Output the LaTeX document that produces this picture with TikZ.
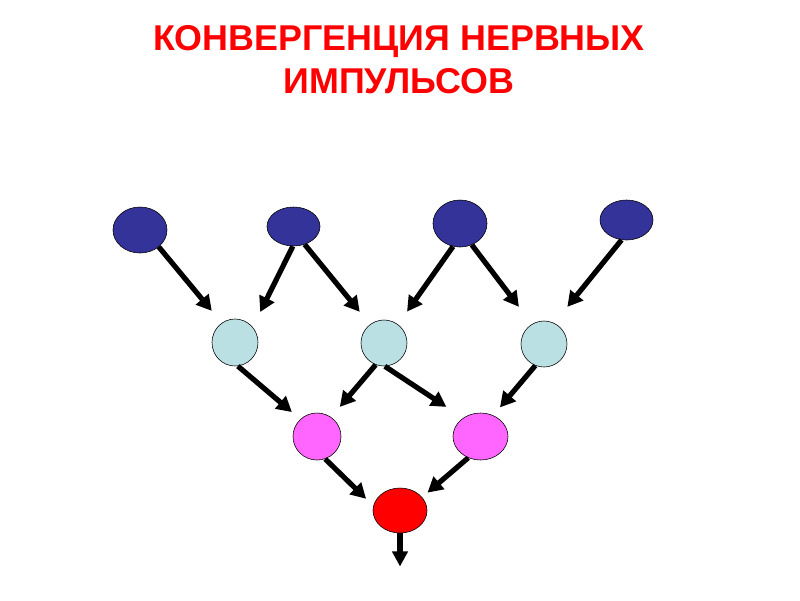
\documentclass[tikz,border=0pt]{standalone}
\usepackage{fontspec}
\setmainfont{Liberation Sans}
\usetikzlibrary{arrows.meta,shapes.geometric}
\definecolor{neurDark}{RGB}{51,51,153}
\definecolor{neurLight}{RGB}{187,224,227}
\definecolor{neurPink}{RGB}{255,102,255}

\begin{document}
\begin{tikzpicture}[x=0.025cm,y=-0.025cm,
  cell/.style={ellipse,draw=black,line width=0.4pt,inner sep=0pt},
  inp/.style={cell,fill=neurDark},
  mid/.style={cell,fill=neurLight},
  low/.style={cell,fill=neurPink},
  fin/.style={cell,fill=red},
  imp/.style={line width=3.7pt,-{Triangle[length=3.8mm,width=4mm]}},
  ttl/.style={text=red,font=\fontsize{25.5}{30}\selectfont\bfseries,anchor=base}]
\useasboundingbox (0,0) rectangle (800,600);
\node[ttl] (ttlA) at (399,50) {КОНВЕРГЕНЦИЯ НЕРВНЫХ};
\node[ttl] (ttlB) at (399,93) {ИМПУЛЬСОВ};
\node[inp,minimum width=1.35cm,minimum height=1.15cm] (T1) at (140,230) {};
\node[inp,minimum width=1.325cm,minimum height=0.975cm] (T2) at (293.5,226.5) {};
\node[inp,minimum width=1.35cm,minimum height=1.175cm] (T3) at (460,223.5) {};
\node[inp,minimum width=1.325cm,minimum height=1.0cm] (T4) at (626.5,220) {};
\node[mid,minimum width=1.15cm,minimum height=1.175cm] (M1) at (235,342.5) {};
\node[mid,minimum width=1.15cm,minimum height=1.15cm] (M2) at (384,343) {};
\node[mid,minimum width=1.15cm,minimum height=1.15cm] (M3) at (544,344) {};
\node[low,minimum width=1.2cm,minimum height=1.175cm] (P1) at (317,436.5) {};
\node[low,minimum width=1.375cm,minimum height=1.175cm] (P2) at (480.5,436.5) {};
\node[fin,minimum width=1.35cm,minimum height=1.125cm] (R) at (400,510.5) {};
\coordinate (out) at (400,566.5);
\foreach \a/\b/\g in {T1.318/M1.124/3.9, T2.268/M1.41/4.2, T2.302/M2.127/4.05,
    T3.253/M2.53/3.9, T3.299/M3.121/5.4, T4.256/M3.64/5.2,
    M1.277/P1.134/2.75, M2.249/P1.54/3.35, M2.272/P2.133/5, M3.248/P2.59/2.6,
    P1.290/R.170/2.5, P2.240/R.31/1.75}
	\draw[imp,shorten >=\g mm] (\a) -- (\b);
\draw[imp,-{Triangle[length=3.8mm,width=3.8mm]}] (R.south) -- (out);
\end{tikzpicture}
\end{document}
